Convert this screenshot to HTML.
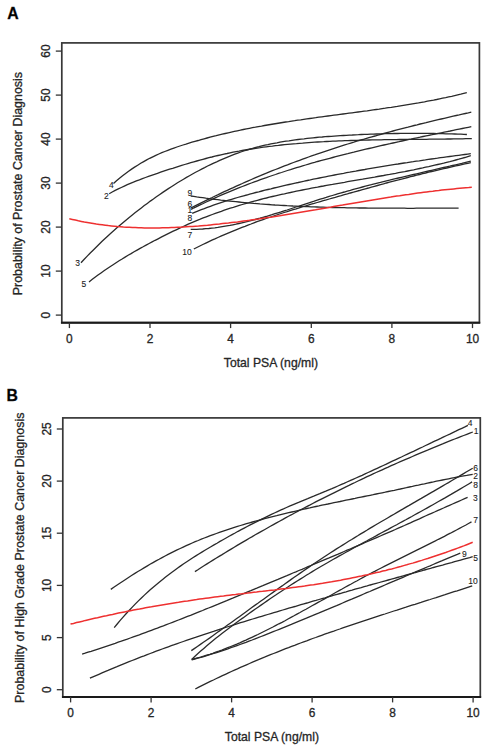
<!DOCTYPE html>
<html><head><meta charset="utf-8"><style>
html,body{margin:0;padding:0;background:#fff;}
body{width:490px;height:755px;overflow:hidden;}
svg{display:block;}
text{font-family:"Liberation Sans",sans-serif;fill:#262626;stroke:#262626;stroke-width:0.3px;}
.tk{font-size:11.9px;}
.ti{font-size:12.2px;}
.lt{font-size:15.8px;font-weight:bold;fill:#000;}
.cl{font-size:8.5px;fill:#1a1a1a;stroke-width:0.1px;}
</style></head><body>
<svg width="490" height="755" viewBox="0 0 490 755">
<rect x="61.8" y="42.9" width="417.6" height="279.7" fill="none" stroke="#383838" stroke-width="1.7"/>
<line x1="60.95" y1="322.7" x2="480.25" y2="322.7" stroke="#1a1a1a" stroke-width="2"/>
<line x1="69.4" y1="322.6" x2="69.4" y2="328.1" stroke="#333" stroke-width="1.3"/>
<text x="69.4" y="342.9" text-anchor="middle" class="tk">0</text>
<line x1="150.0" y1="322.6" x2="150.0" y2="328.1" stroke="#333" stroke-width="1.3"/>
<text x="150.0" y="342.9" text-anchor="middle" class="tk">2</text>
<line x1="230.6" y1="322.6" x2="230.6" y2="328.1" stroke="#333" stroke-width="1.3"/>
<text x="230.6" y="342.9" text-anchor="middle" class="tk">4</text>
<line x1="311.3" y1="322.6" x2="311.3" y2="328.1" stroke="#333" stroke-width="1.3"/>
<text x="311.3" y="342.9" text-anchor="middle" class="tk">6</text>
<line x1="391.9" y1="322.6" x2="391.9" y2="328.1" stroke="#333" stroke-width="1.3"/>
<text x="391.9" y="342.9" text-anchor="middle" class="tk">8</text>
<line x1="472.5" y1="322.6" x2="472.5" y2="328.1" stroke="#333" stroke-width="1.3"/>
<text x="472.5" y="342.9" text-anchor="middle" class="tk">10</text>
<line x1="55.8" y1="315.1" x2="61.8" y2="315.1" stroke="#333" stroke-width="1.3"/>
<text transform="translate(50.2,315.1) rotate(-90)" text-anchor="middle" class="tk">0</text>
<line x1="55.8" y1="271.1" x2="61.8" y2="271.1" stroke="#333" stroke-width="1.3"/>
<text transform="translate(50.2,271.1) rotate(-90)" text-anchor="middle" class="tk">10</text>
<line x1="55.8" y1="227.1" x2="61.8" y2="227.1" stroke="#333" stroke-width="1.3"/>
<text transform="translate(50.2,227.1) rotate(-90)" text-anchor="middle" class="tk">20</text>
<line x1="55.8" y1="183.1" x2="61.8" y2="183.1" stroke="#333" stroke-width="1.3"/>
<text transform="translate(50.2,183.1) rotate(-90)" text-anchor="middle" class="tk">30</text>
<line x1="55.8" y1="139.1" x2="61.8" y2="139.1" stroke="#333" stroke-width="1.3"/>
<text transform="translate(50.2,139.1) rotate(-90)" text-anchor="middle" class="tk">40</text>
<line x1="55.8" y1="95.1" x2="61.8" y2="95.1" stroke="#333" stroke-width="1.3"/>
<text transform="translate(50.2,95.1) rotate(-90)" text-anchor="middle" class="tk">50</text>
<line x1="55.8" y1="51.1" x2="61.8" y2="51.1" stroke="#333" stroke-width="1.3"/>
<text transform="translate(50.2,51.1) rotate(-90)" text-anchor="middle" class="tk">60</text>
<text x="270.9" y="367.1" text-anchor="middle" class="ti">Total PSA (ng/ml)</text>
<text transform="translate(21.8,183.6) rotate(-90)" text-anchor="middle" class="ti" style="font-size:12.45px">Probability of Prostate Cancer Diagnosis</text>
<text x="7.3" y="19.0" class="lt">A</text>
<path d="M113.5,183.5 L116.5,180.8 L119.5,178.2 L122.6,175.8 L125.6,173.4 L128.6,171.2 L131.6,169.1 L134.6,167.1 L137.7,165.2 L140.7,163.3 L143.7,161.6 L146.7,159.9 L149.7,158.3 L152.8,156.8 L155.8,155.4 L158.8,154.0 L161.8,152.7 L164.8,151.5 L167.9,150.3 L170.9,149.2 L173.9,148.1 L176.9,147.0 L179.9,146.0 L183.0,145.0 L186.0,144.1 L189.0,143.1 L192.0,142.2 L195.0,141.3 L198.1,140.5 L201.1,139.6 L204.1,138.8 L207.1,138.0 L210.1,137.2 L213.1,136.4 L216.2,135.7 L219.2,134.9 L222.2,134.2 L225.2,133.5 L228.2,132.8 L231.3,132.1 L234.3,131.4 L237.3,130.8 L240.3,130.2 L243.3,129.5 L246.4,128.9 L249.4,128.3 L252.4,127.7 L255.4,127.2 L258.4,126.6 L261.5,126.1 L264.5,125.5 L267.5,125.0 L270.5,124.5 L273.5,124.0 L276.6,123.5 L279.6,123.0 L282.6,122.5 L285.6,122.0 L288.6,121.6 L291.7,121.1 L294.7,120.7 L297.7,120.2 L300.7,119.8 L303.7,119.3 L306.8,118.9 L309.8,118.5 L312.8,118.1 L315.8,117.7 L318.8,117.2 L321.9,116.8 L324.9,116.4 L327.9,116.0 L330.9,115.6 L333.9,115.2 L337.0,114.8 L340.0,114.4 L343.0,114.0 L346.0,113.6 L349.0,113.2 L352.1,112.8 L355.1,112.4 L358.1,112.0 L361.1,111.6 L364.1,111.2 L367.2,110.8 L370.2,110.3 L373.2,109.9 L376.2,109.5 L379.2,109.1 L382.2,108.6 L385.3,108.2 L388.3,107.7 L391.3,107.3 L394.3,106.8 L397.3,106.4 L400.4,105.9 L403.4,105.4 L406.4,104.9 L409.4,104.4 L412.4,103.9 L415.5,103.4 L418.5,102.9 L421.5,102.3 L424.5,101.8 L427.5,101.2 L430.6,100.6 L433.6,100.1 L436.6,99.5 L439.6,98.8 L442.6,98.2 L445.7,97.6 L448.7,96.9 L451.7,96.3 L454.7,95.6 L457.7,94.9 L460.8,94.2 L463.8,93.4 L466.8,92.7" fill="none" stroke="#2a2a2a" stroke-width="1.3"/>
<path d="M109.2,193.7 L112.2,192.0 L115.2,190.4 L118.3,188.9 L121.3,187.5 L124.3,186.1 L127.3,184.7 L130.4,183.4 L133.4,182.2 L136.4,180.9 L139.4,179.8 L142.4,178.6 L145.5,177.5 L148.5,176.4 L151.5,175.3 L154.5,174.3 L157.5,173.3 L160.6,172.2 L163.6,171.2 L166.6,170.2 L169.6,169.2 L172.7,168.3 L175.7,167.3 L178.7,166.3 L181.7,165.4 L184.7,164.5 L187.8,163.6 L190.8,162.7 L193.8,161.8 L196.8,161.0 L199.9,160.1 L202.9,159.3 L205.9,158.5 L208.9,157.7 L211.9,157.0 L215.0,156.2 L218.0,155.5 L221.0,154.8 L224.0,154.1 L227.0,153.5 L230.1,152.8 L233.1,152.2 L236.1,151.6 L239.1,151.1 L242.2,150.5 L245.2,150.0 L248.2,149.5 L251.2,149.0 L254.2,148.5 L257.3,148.1 L260.3,147.7 L263.3,147.2 L266.3,146.8 L269.3,146.4 L272.4,146.1 L275.4,145.7 L278.4,145.4 L281.4,145.0 L284.5,144.7 L287.5,144.4 L290.5,144.1 L293.5,143.8 L296.5,143.6 L299.6,143.3 L302.6,143.1 L305.6,142.8 L308.6,142.6 L311.7,142.4 L314.7,142.2 L317.7,142.0 L320.7,141.8 L323.7,141.7 L326.8,141.5 L329.8,141.3 L332.8,141.2 L335.8,141.1 L338.8,140.9 L341.9,140.8 L344.9,140.7 L347.9,140.6 L350.9,140.5 L354.0,140.4 L357.0,140.3 L360.0,140.2 L363.0,140.1 L366.0,140.1 L369.1,140.0 L372.1,139.9 L375.1,139.9 L378.1,139.8 L381.2,139.8 L384.2,139.7 L387.2,139.7 L390.2,139.6 L393.2,139.6 L396.3,139.6 L399.3,139.5 L402.3,139.5 L405.3,139.5 L408.3,139.4 L411.4,139.4 L414.4,139.4 L417.4,139.4 L420.4,139.3 L423.5,139.3 L426.5,139.3 L429.5,139.2 L432.5,139.2 L435.5,139.2 L438.6,139.1 L441.6,139.1 L444.6,139.1 L447.6,139.0 L450.6,139.0 L453.7,138.9 L456.7,138.9 L459.7,138.8 L462.7,138.8 L465.8,138.7 L468.8,138.6 L471.8,138.6" fill="none" stroke="#2a2a2a" stroke-width="1.3"/>
<path d="M81.0,262.8 L84.0,259.5 L87.0,256.4 L90.0,253.2 L93.1,250.2 L96.1,247.2 L99.1,244.2 L102.1,241.3 L105.1,238.5 L108.1,235.7 L111.1,232.9 L114.2,230.2 L117.2,227.6 L120.2,225.0 L123.2,222.4 L126.2,219.9 L129.2,217.4 L132.3,215.0 L135.3,212.6 L138.3,210.2 L141.3,207.9 L144.3,205.6 L147.3,203.4 L150.3,201.1 L153.4,199.0 L156.4,196.8 L159.4,194.7 L162.4,192.6 L165.4,190.6 L168.4,188.6 L171.4,186.7 L174.5,184.7 L177.5,182.8 L180.5,181.0 L183.5,179.2 L186.5,177.4 L189.5,175.7 L192.5,174.0 L195.6,172.3 L198.6,170.7 L201.6,169.1 L204.6,167.6 L207.6,166.0 L210.6,164.6 L213.7,163.1 L216.7,161.8 L219.7,160.4 L222.7,159.1 L225.7,157.8 L228.7,156.6 L231.7,155.4 L234.8,154.2 L237.8,153.1 L240.8,152.0 L243.8,151.0 L246.8,150.1 L249.8,149.1 L252.8,148.3 L255.9,147.4 L258.9,146.7 L261.9,145.9 L264.9,145.2 L267.9,144.6 L270.9,143.9 L273.9,143.3 L277.0,142.8 L280.0,142.2 L283.0,141.7 L286.0,141.2 L289.0,140.8 L292.0,140.3 L295.1,139.9 L298.1,139.5 L301.1,139.1 L304.1,138.8 L307.1,138.4 L310.1,138.1 L313.1,137.8 L316.2,137.5 L319.2,137.2 L322.2,137.0 L325.2,136.7 L328.2,136.5 L331.2,136.3 L334.2,136.1 L337.3,135.9 L340.3,135.7 L343.3,135.5 L346.3,135.3 L349.3,135.1 L352.3,135.0 L355.4,134.8 L358.4,134.7 L361.4,134.5 L364.4,134.4 L367.4,134.3 L370.4,134.2 L373.4,134.1 L376.5,134.0 L379.5,133.9 L382.5,133.8 L385.5,133.7 L388.5,133.6 L391.5,133.6 L394.5,133.5 L397.6,133.5 L400.6,133.4 L403.6,133.4 L406.6,133.4 L409.6,133.4 L412.6,133.4 L415.6,133.4 L418.7,133.4 L421.7,133.4 L424.7,133.4 L427.7,133.4 L430.7,133.5 L433.7,133.5 L436.8,133.6 L439.8,133.6 L442.8,133.7 L445.8,133.8 L448.8,133.8 L451.8,133.9 L454.8,134.0 L457.9,134.1 L460.9,134.2 L463.9,134.3 L466.9,134.5" fill="none" stroke="#2a2a2a" stroke-width="1.3"/>
<path d="M89.0,282.0 L92.0,279.6 L95.0,277.3 L98.0,275.1 L101.0,272.9 L104.0,270.8 L107.0,268.7 L110.0,266.7 L113.1,264.7 L116.1,262.7 L119.1,260.8 L122.1,259.0 L125.1,257.1 L128.1,255.3 L131.1,253.6 L134.1,251.8 L137.1,250.1 L140.1,248.4 L143.1,246.8 L146.1,245.1 L149.1,243.5 L152.1,241.9 L155.1,240.3 L158.1,238.8 L161.2,237.2 L164.2,235.7 L167.2,234.2 L170.2,232.7 L173.2,231.2 L176.2,229.8 L179.2,228.4 L182.2,227.0 L185.2,225.6 L188.2,224.2 L191.2,222.9 L194.2,221.6 L197.2,220.4 L200.2,219.2 L203.2,217.9 L206.2,216.8 L209.3,215.6 L212.3,214.5 L215.3,213.4 L218.3,212.3 L221.3,211.3 L224.3,210.2 L227.3,209.2 L230.3,208.2 L233.3,207.3 L236.3,206.3 L239.3,205.4 L242.3,204.5 L245.3,203.6 L248.3,202.8 L251.3,201.9 L254.3,201.1 L257.4,200.3 L260.4,199.5 L263.4,198.7 L266.4,198.0 L269.4,197.2 L272.4,196.5 L275.4,195.8 L278.4,195.1 L281.4,194.4 L284.4,193.8 L287.4,193.1 L290.4,192.5 L293.4,191.8 L296.4,191.2 L299.4,190.6 L302.4,190.0 L305.5,189.4 L308.5,188.8 L311.5,188.2 L314.5,187.6 L317.5,187.1 L320.5,186.5 L323.5,186.0 L326.5,185.4 L329.5,184.9 L332.5,184.4 L335.5,183.8 L338.5,183.3 L341.5,182.8 L344.5,182.3 L347.5,181.7 L350.5,181.2 L353.6,180.7 L356.6,180.2 L359.6,179.7 L362.6,179.2 L365.6,178.6 L368.6,178.1 L371.6,177.6 L374.6,177.1 L377.6,176.5 L380.6,176.0 L383.6,175.5 L386.6,174.9 L389.6,174.4 L392.6,173.8 L395.6,173.3 L398.6,172.7 L401.7,172.1 L404.7,171.6 L407.7,171.0 L410.7,170.4 L413.7,169.8 L416.7,169.1 L419.7,168.5 L422.7,167.9 L425.7,167.2 L428.7,166.6 L431.7,165.9 L434.7,165.2 L437.7,164.5 L440.7,163.8 L443.7,163.1 L446.7,162.3 L449.8,161.6 L452.8,160.8 L455.8,160.0 L458.8,159.2 L461.8,158.3 L464.8,157.5 L467.8,156.6 L470.8,155.7" fill="none" stroke="#2a2a2a" stroke-width="1.3"/>
<path d="M192.2,213.4 L195.2,212.1 L198.3,210.9 L201.3,209.7 L204.3,208.6 L207.3,207.4 L210.4,206.3 L213.4,205.2 L216.4,204.2 L219.5,203.2 L222.5,202.2 L225.5,201.2 L228.5,200.2 L231.6,199.3 L234.6,198.4 L237.6,197.5 L240.7,196.6 L243.7,195.8 L246.7,195.0 L249.7,194.1 L252.8,193.3 L255.8,192.5 L258.8,191.8 L261.9,191.0 L264.9,190.2 L267.9,189.5 L270.9,188.8 L274.0,188.0 L277.0,187.3 L280.0,186.6 L283.0,185.9 L286.1,185.2 L289.1,184.5 L292.1,183.8 L295.2,183.1 L298.2,182.5 L301.2,181.8 L304.2,181.2 L307.3,180.5 L310.3,179.9 L313.3,179.2 L316.4,178.6 L319.4,178.0 L322.4,177.4 L325.4,176.8 L328.5,176.2 L331.5,175.6 L334.5,175.0 L337.6,174.4 L340.6,173.8 L343.6,173.3 L346.6,172.7 L349.7,172.2 L352.7,171.6 L355.7,171.1 L358.8,170.5 L361.8,170.0 L364.8,169.5 L367.8,168.9 L370.9,168.4 L373.9,167.9 L376.9,167.4 L380.0,166.9 L383.0,166.4 L386.0,165.9 L389.0,165.4 L392.1,164.9 L395.1,164.4 L398.1,164.0 L401.1,163.5 L404.2,163.0 L407.2,162.6 L410.2,162.1 L413.3,161.7 L416.3,161.2 L419.3,160.8 L422.3,160.3 L425.4,159.9 L428.4,159.4 L431.4,159.0 L434.5,158.6 L437.5,158.2 L440.5,157.7 L443.5,157.3 L446.6,156.9 L449.6,156.5 L452.6,156.1 L455.7,155.7 L458.7,155.3 L461.7,154.9 L464.7,154.5 L467.8,154.1 L470.8,153.7" fill="none" stroke="#2a2a2a" stroke-width="1.3"/>
<path d="M191.1,207.9 L194.1,206.4 L197.1,204.9 L200.1,203.4 L203.2,201.9 L206.2,200.4 L209.2,198.9 L212.2,197.5 L215.2,196.0 L218.2,194.6 L221.2,193.1 L224.2,191.7 L227.3,190.3 L230.3,188.9 L233.3,187.6 L236.3,186.2 L239.3,184.8 L242.3,183.5 L245.3,182.1 L248.3,180.8 L251.4,179.5 L254.4,178.2 L257.4,176.9 L260.4,175.7 L263.4,174.4 L266.4,173.2 L269.4,171.9 L272.4,170.7 L275.5,169.5 L278.5,168.3 L281.5,167.1 L284.5,165.9 L287.5,164.8 L290.5,163.6 L293.5,162.5 L296.6,161.4 L299.6,160.3 L302.6,159.2 L305.6,158.1 L308.6,157.0 L311.6,155.9 L314.6,154.9 L317.6,153.8 L320.7,152.8 L323.7,151.8 L326.7,150.8 L329.7,149.8 L332.7,148.8 L335.7,147.8 L338.7,146.8 L341.7,145.9 L344.8,144.9 L347.8,144.0 L350.8,143.1 L353.8,142.2 L356.8,141.2 L359.8,140.3 L362.8,139.5 L365.8,138.6 L368.9,137.7 L371.9,136.8 L374.9,136.0 L377.9,135.1 L380.9,134.3 L383.9,133.4 L386.9,132.6 L390.0,131.8 L393.0,131.0 L396.0,130.2 L399.0,129.4 L402.0,128.6 L405.0,127.8 L408.0,127.1 L411.0,126.3 L414.1,125.5 L417.1,124.8 L420.1,124.0 L423.1,123.3 L426.1,122.6 L429.1,121.8 L432.1,121.1 L435.1,120.4 L438.2,119.7 L441.2,119.0 L444.2,118.3 L447.2,117.6 L450.2,116.9 L453.2,116.2 L456.2,115.5 L459.2,114.9 L462.3,114.2 L465.3,113.5 L468.3,112.9 L471.3,112.2" fill="none" stroke="#2a2a2a" stroke-width="1.3"/>
<path d="M191.1,209.4 L194.1,207.8 L197.1,206.4 L200.1,204.9 L203.2,203.5 L206.2,202.0 L209.2,200.6 L212.2,199.3 L215.2,197.9 L218.2,196.5 L221.2,195.2 L224.2,193.9 L227.3,192.6 L230.3,191.4 L233.3,190.1 L236.3,188.9 L239.3,187.7 L242.3,186.5 L245.3,185.3 L248.3,184.2 L251.4,183.0 L254.4,181.9 L257.4,180.8 L260.4,179.7 L263.4,178.6 L266.4,177.6 L269.4,176.5 L272.4,175.5 L275.5,174.5 L278.5,173.4 L281.5,172.5 L284.5,171.5 L287.5,170.5 L290.5,169.6 L293.5,168.6 L296.6,167.7 L299.6,166.8 L302.6,165.9 L305.6,165.0 L308.6,164.1 L311.6,163.2 L314.6,162.4 L317.6,161.5 L320.7,160.7 L323.7,159.9 L326.7,159.1 L329.7,158.3 L332.7,157.5 L335.7,156.7 L338.7,155.9 L341.7,155.1 L344.8,154.3 L347.8,153.6 L350.8,152.8 L353.8,152.1 L356.8,151.3 L359.8,150.6 L362.8,149.9 L365.8,149.2 L368.9,148.5 L371.9,147.8 L374.9,147.1 L377.9,146.4 L380.9,145.7 L383.9,145.0 L386.9,144.3 L390.0,143.7 L393.0,143.0 L396.0,142.3 L399.0,141.7 L402.0,141.0 L405.0,140.4 L408.0,139.7 L411.0,139.1 L414.1,138.4 L417.1,137.8 L420.1,137.2 L423.1,136.5 L426.1,135.9 L429.1,135.3 L432.1,134.7 L435.1,134.0 L438.2,133.4 L441.2,132.8 L444.2,132.2 L447.2,131.6 L450.2,131.0 L453.2,130.3 L456.2,129.7 L459.2,129.1 L462.3,128.5 L465.3,127.9 L468.3,127.3 L471.3,126.7" fill="none" stroke="#2a2a2a" stroke-width="1.3"/>
<path d="M190.7,196.0 L193.7,196.4 L196.7,196.9 L199.7,197.3 L202.7,197.7 L205.8,198.2 L208.8,198.6 L211.8,199.0 L214.8,199.3 L217.8,199.7 L220.8,200.1 L223.8,200.4 L226.8,200.8 L229.8,201.1 L232.8,201.4 L235.9,201.7 L238.9,202.0 L241.9,202.3 L244.9,202.6 L247.9,202.9 L250.9,203.1 L253.9,203.4 L256.9,203.6 L259.9,203.9 L262.9,204.1 L266.0,204.3 L269.0,204.5 L272.0,204.8 L275.0,205.0 L278.0,205.1 L281.0,205.3 L284.0,205.5 L287.0,205.7 L290.0,205.8 L293.0,206.0 L296.1,206.1 L299.1,206.3 L302.1,206.4 L305.1,206.6 L308.1,206.7 L311.1,206.8 L314.1,206.9 L317.1,207.0 L320.1,207.1 L323.1,207.2 L326.2,207.3 L329.2,207.4 L332.2,207.5 L335.2,207.5 L338.2,207.6 L341.2,207.7 L344.2,207.7 L347.2,207.8 L350.2,207.8 L353.2,207.9 L356.3,207.9 L359.3,208.0 L362.3,208.0 L365.3,208.0 L368.3,208.1 L371.3,208.1 L374.3,208.1 L377.3,208.2 L380.3,208.2 L383.3,208.2 L386.4,208.2 L389.4,208.2 L392.4,208.2 L395.4,208.2 L398.4,208.2 L401.4,208.2 L404.4,208.2 L407.4,208.3 L410.4,208.3 L413.4,208.3 L416.5,208.2 L419.5,208.2 L422.5,208.2 L425.5,208.2 L428.5,208.2 L431.5,208.2 L434.5,208.2 L437.5,208.2 L440.5,208.2 L443.5,208.2 L446.6,208.2 L449.6,208.2 L452.6,208.2 L455.6,208.2 L458.6,208.2" fill="none" stroke="#2a2a2a" stroke-width="1.3"/>
<path d="M190.7,229.4 L193.7,229.4 L196.7,229.3 L199.7,229.1 L202.7,229.0 L205.8,228.7 L208.8,228.5 L211.8,228.1 L214.8,227.8 L217.8,227.4 L220.8,226.9 L223.8,226.4 L226.8,225.9 L229.9,225.4 L232.9,224.8 L235.9,224.2 L238.9,223.5 L241.9,222.8 L244.9,222.1 L247.9,221.4 L250.9,220.6 L253.9,219.8 L257.0,219.0 L260.0,218.2 L263.0,217.3 L266.0,216.5 L269.0,215.6 L272.0,214.7 L275.0,213.7 L278.0,212.8 L281.1,211.9 L284.1,210.9 L287.1,210.0 L290.1,209.0 L293.1,208.0 L296.1,207.0 L299.1,206.1 L302.1,205.1 L305.1,204.1 L308.2,203.1 L311.2,202.1 L314.2,201.2 L317.2,200.2 L320.2,199.2 L323.2,198.3 L326.2,197.4 L329.2,196.4 L332.3,195.5 L335.3,194.6 L338.3,193.7 L341.3,192.8 L344.3,192.0 L347.3,191.1 L350.3,190.3 L353.3,189.4 L356.4,188.6 L359.4,187.8 L362.4,187.0 L365.4,186.2 L368.4,185.4 L371.4,184.7 L374.4,183.9 L377.4,183.1 L380.4,182.4 L383.5,181.6 L386.5,180.9 L389.5,180.2 L392.5,179.4 L395.5,178.7 L398.5,178.0 L401.5,177.3 L404.5,176.6 L407.6,175.9 L410.6,175.2 L413.6,174.5 L416.6,173.8 L419.6,173.1 L422.6,172.4 L425.6,171.7 L428.6,171.0 L431.6,170.3 L434.7,169.6 L437.7,168.9 L440.7,168.2 L443.7,167.5 L446.7,166.8 L449.7,166.2 L452.7,165.5 L455.7,164.8 L458.8,164.1 L461.8,163.4 L464.8,162.6 L467.8,161.9 L470.8,161.2" fill="none" stroke="#2a2a2a" stroke-width="1.3"/>
<path d="M193.8,249.0 L196.8,247.5 L199.8,246.0 L202.8,244.5 L205.8,243.1 L208.9,241.6 L211.9,240.2 L214.9,238.9 L217.9,237.5 L220.9,236.2 L223.9,234.9 L226.9,233.6 L229.9,232.3 L232.9,231.1 L236.0,229.8 L239.0,228.6 L242.0,227.4 L245.0,226.3 L248.0,225.1 L251.0,224.0 L254.0,222.8 L257.0,221.7 L260.0,220.7 L263.1,219.6 L266.1,218.5 L269.1,217.5 L272.1,216.5 L275.1,215.5 L278.1,214.5 L281.1,213.5 L284.1,212.5 L287.1,211.6 L290.1,210.6 L293.2,209.7 L296.2,208.8 L299.2,207.8 L302.2,206.9 L305.2,206.0 L308.2,205.1 L311.2,204.2 L314.2,203.4 L317.2,202.5 L320.3,201.6 L323.3,200.7 L326.3,199.9 L329.3,199.0 L332.3,198.1 L335.3,197.3 L338.3,196.4 L341.3,195.6 L344.3,194.7 L347.4,193.9 L350.4,193.0 L353.4,192.2 L356.4,191.3 L359.4,190.5 L362.4,189.6 L365.4,188.8 L368.4,188.0 L371.4,187.1 L374.5,186.3 L377.5,185.5 L380.5,184.7 L383.5,183.9 L386.5,183.0 L389.5,182.2 L392.5,181.4 L395.5,180.6 L398.5,179.9 L401.6,179.1 L404.6,178.3 L407.6,177.5 L410.6,176.7 L413.6,176.0 L416.6,175.2 L419.6,174.5 L422.6,173.7 L425.6,173.0 L428.6,172.2 L431.7,171.5 L434.7,170.8 L437.7,170.1 L440.7,169.4 L443.7,168.7 L446.7,168.0 L449.7,167.3 L452.7,166.6 L455.7,165.9 L458.8,165.3 L461.8,164.6 L464.8,163.9 L467.8,163.3 L470.8,162.7" fill="none" stroke="#2a2a2a" stroke-width="1.3"/>
<path d="M69.3,218.7 L72.3,219.4 L75.3,220.1 L78.3,220.8 L81.3,221.4 L84.3,222.0 L87.3,222.5 L90.3,223.0 L93.3,223.5 L96.3,224.0 L99.3,224.4 L102.3,224.8 L105.3,225.2 L108.3,225.6 L111.4,225.9 L114.4,226.2 L117.4,226.5 L120.4,226.7 L123.4,227.0 L126.4,227.2 L129.4,227.3 L132.4,227.5 L135.4,227.6 L138.4,227.7 L141.4,227.8 L144.4,227.9 L147.4,227.9 L150.4,227.9 L153.4,227.9 L156.4,227.9 L159.4,227.9 L162.4,227.8 L165.4,227.8 L168.4,227.7 L171.4,227.6 L174.4,227.5 L177.4,227.3 L180.4,227.2 L183.4,227.0 L186.4,226.8 L189.4,226.6 L192.5,226.4 L195.5,226.2 L198.5,226.0 L201.5,225.7 L204.5,225.4 L207.5,225.2 L210.5,224.9 L213.5,224.6 L216.5,224.3 L219.5,224.0 L222.5,223.6 L225.5,223.3 L228.5,223.0 L231.5,222.6 L234.5,222.2 L237.5,221.9 L240.5,221.5 L243.5,221.1 L246.5,220.7 L249.5,220.3 L252.5,219.8 L255.5,219.4 L258.5,219.0 L261.5,218.5 L264.5,218.1 L267.5,217.6 L270.6,217.2 L273.6,216.7 L276.6,216.2 L279.6,215.8 L282.6,215.3 L285.6,214.8 L288.6,214.3 L291.6,213.8 L294.6,213.3 L297.6,212.8 L300.6,212.3 L303.6,211.8 L306.6,211.3 L309.6,210.8 L312.6,210.3 L315.6,209.8 L318.6,209.2 L321.6,208.7 L324.6,208.2 L327.6,207.7 L330.6,207.2 L333.6,206.6 L336.6,206.1 L339.6,205.6 L342.6,205.1 L345.6,204.5 L348.6,204.0 L351.7,203.5 L354.7,203.0 L357.7,202.5 L360.7,202.0 L363.7,201.5 L366.7,201.0 L369.7,200.5 L372.7,200.0 L375.7,199.5 L378.7,199.0 L381.7,198.5 L384.7,198.0 L387.7,197.5 L390.7,197.1 L393.7,196.6 L396.7,196.1 L399.7,195.7 L402.7,195.2 L405.7,194.8 L408.7,194.4 L411.7,193.9 L414.7,193.5 L417.7,193.1 L420.7,192.7 L423.7,192.3 L426.7,191.9 L429.7,191.5 L432.8,191.2 L435.8,190.8 L438.8,190.5 L441.8,190.1 L444.8,189.8 L447.8,189.5 L450.8,189.2 L453.8,188.9 L456.8,188.6 L459.8,188.3 L462.8,188.0 L465.8,187.8 L468.8,187.6 L471.8,187.3" fill="none" stroke="#ee3030" stroke-width="1.5"/>
<text x="111.4" y="187.7" text-anchor="middle" class="cl">4</text>
<text x="106.4" y="198.8" text-anchor="middle" class="cl">2</text>
<text x="77.7" y="265.9" text-anchor="middle" class="cl">3</text>
<text x="83.8" y="286.6" text-anchor="middle" class="cl">5</text>
<text x="189.8" y="196.4" text-anchor="middle" class="cl">9</text>
<text x="189.8" y="207.3" text-anchor="middle" class="cl">6</text>
<text x="189.8" y="213.4" text-anchor="middle" class="cl">1</text>
<text x="189.8" y="221.2" text-anchor="middle" class="cl">8</text>
<text x="189.8" y="237.9" text-anchor="middle" class="cl">7</text>
<text x="187.1" y="254.8" text-anchor="middle" class="cl">10</text>
<rect x="62.8" y="417.9" width="417.5" height="279.0" fill="none" stroke="#383838" stroke-width="1.7"/>
<line x1="61.95" y1="697.0" x2="481.15" y2="697.0" stroke="#1a1a1a" stroke-width="2"/>
<line x1="70.6" y1="696.9" x2="70.6" y2="702.4" stroke="#333" stroke-width="1.3"/>
<text x="70.6" y="717.2" text-anchor="middle" class="tk">0</text>
<line x1="151.1" y1="696.9" x2="151.1" y2="702.4" stroke="#333" stroke-width="1.3"/>
<text x="151.1" y="717.2" text-anchor="middle" class="tk">2</text>
<line x1="231.6" y1="696.9" x2="231.6" y2="702.4" stroke="#333" stroke-width="1.3"/>
<text x="231.6" y="717.2" text-anchor="middle" class="tk">4</text>
<line x1="312.1" y1="696.9" x2="312.1" y2="702.4" stroke="#333" stroke-width="1.3"/>
<text x="312.1" y="717.2" text-anchor="middle" class="tk">6</text>
<line x1="392.6" y1="696.9" x2="392.6" y2="702.4" stroke="#333" stroke-width="1.3"/>
<text x="392.6" y="717.2" text-anchor="middle" class="tk">8</text>
<line x1="473.1" y1="696.9" x2="473.1" y2="702.4" stroke="#333" stroke-width="1.3"/>
<text x="473.1" y="717.2" text-anchor="middle" class="tk">10</text>
<line x1="56.8" y1="689.7" x2="62.8" y2="689.7" stroke="#333" stroke-width="1.3"/>
<text transform="translate(51.2,689.7) rotate(-90)" text-anchor="middle" class="tk">0</text>
<line x1="56.8" y1="637.6" x2="62.8" y2="637.6" stroke="#333" stroke-width="1.3"/>
<text transform="translate(51.2,637.6) rotate(-90)" text-anchor="middle" class="tk">5</text>
<line x1="56.8" y1="585.4" x2="62.8" y2="585.4" stroke="#333" stroke-width="1.3"/>
<text transform="translate(51.2,585.4) rotate(-90)" text-anchor="middle" class="tk">10</text>
<line x1="56.8" y1="533.2" x2="62.8" y2="533.2" stroke="#333" stroke-width="1.3"/>
<text transform="translate(51.2,533.2) rotate(-90)" text-anchor="middle" class="tk">15</text>
<line x1="56.8" y1="481.1" x2="62.8" y2="481.1" stroke="#333" stroke-width="1.3"/>
<text transform="translate(51.2,481.1) rotate(-90)" text-anchor="middle" class="tk">20</text>
<line x1="56.8" y1="429.0" x2="62.8" y2="429.0" stroke="#333" stroke-width="1.3"/>
<text transform="translate(51.2,429.0) rotate(-90)" text-anchor="middle" class="tk">25</text>
<text x="271.9" y="741.4" text-anchor="middle" class="ti">Total PSA (ng/ml)</text>
<text transform="translate(23.8,557.8) rotate(-90)" text-anchor="middle" class="ti" style="font-size:12.45px">Probability of High Grade Prostate Cancer Diagnosis</text>
<text x="6.6" y="401.2" class="lt">B</text>
<path d="M114.2,627.6 L117.2,624.0 L120.2,620.4 L123.3,616.9 L126.3,613.5 L129.3,610.3 L132.3,607.1 L135.4,603.9 L138.4,600.9 L141.4,598.0 L144.4,595.1 L147.5,592.3 L150.5,589.6 L153.5,586.9 L156.5,584.4 L159.5,581.9 L162.6,579.4 L165.6,577.0 L168.6,574.7 L171.6,572.4 L174.7,570.2 L177.7,568.0 L180.7,565.9 L183.7,563.8 L186.8,561.8 L189.8,559.8 L192.8,557.8 L195.8,555.9 L198.8,554.0 L201.9,552.1 L204.9,550.3 L207.9,548.5 L210.9,546.7 L214.0,544.9 L217.0,543.2 L220.0,541.4 L223.0,539.7 L226.1,538.0 L229.1,536.3 L232.1,534.6 L235.1,533.0 L238.1,531.3 L241.2,529.7 L244.2,528.1 L247.2,526.5 L250.2,524.9 L253.3,523.3 L256.3,521.8 L259.3,520.3 L262.3,518.8 L265.4,517.3 L268.4,515.8 L271.4,514.4 L274.4,513.0 L277.4,511.6 L280.5,510.2 L283.5,508.9 L286.5,507.5 L289.5,506.2 L292.6,504.9 L295.6,503.6 L298.6,502.4 L301.6,501.1 L304.7,499.8 L307.7,498.6 L310.7,497.3 L313.7,496.1 L316.7,494.8 L319.8,493.6 L322.8,492.3 L325.8,491.1 L328.8,489.8 L331.9,488.6 L334.9,487.3 L337.9,486.0 L340.9,484.7 L344.0,483.4 L347.0,482.0 L350.0,480.7 L353.0,479.3 L356.0,478.0 L359.1,476.6 L362.1,475.3 L365.1,473.9 L368.1,472.5 L371.2,471.1 L374.2,469.7 L377.2,468.3 L380.2,466.9 L383.3,465.5 L386.3,464.1 L389.3,462.6 L392.3,461.2 L395.3,459.8 L398.4,458.4 L401.4,457.0 L404.4,455.5 L407.4,454.1 L410.5,452.7 L413.5,451.3 L416.5,449.8 L419.5,448.4 L422.6,447.0 L425.6,445.5 L428.6,444.1 L431.6,442.7 L434.6,441.2 L437.7,439.8 L440.7,438.4 L443.7,436.9 L446.7,435.5 L449.8,434.1 L452.8,432.6 L455.8,431.2 L458.8,429.7 L461.9,428.3 L464.9,426.9 L467.9,425.4" fill="none" stroke="#2a2a2a" stroke-width="1.3"/>
<path d="M194.9,571.6 L197.9,569.7 L200.9,567.7 L204.0,565.8 L207.0,563.9 L210.0,562.0 L213.0,560.1 L216.0,558.3 L219.1,556.4 L222.1,554.6 L225.1,552.7 L228.1,550.9 L231.1,549.1 L234.2,547.2 L237.2,545.4 L240.2,543.6 L243.2,541.9 L246.3,540.1 L249.3,538.3 L252.3,536.6 L255.3,534.8 L258.3,533.1 L261.4,531.4 L264.4,529.7 L267.4,528.0 L270.4,526.3 L273.4,524.6 L276.5,522.9 L279.5,521.2 L282.5,519.6 L285.5,517.9 L288.5,516.3 L291.6,514.7 L294.6,513.0 L297.6,511.4 L300.6,509.8 L303.6,508.2 L306.7,506.6 L309.7,505.1 L312.7,503.5 L315.7,501.9 L318.7,500.4 L321.8,498.8 L324.8,497.3 L327.8,495.8 L330.8,494.3 L333.9,492.8 L336.9,491.3 L339.9,489.8 L342.9,488.3 L345.9,486.8 L349.0,485.4 L352.0,483.9 L355.0,482.5 L358.0,481.0 L361.0,479.6 L364.1,478.2 L367.1,476.7 L370.1,475.3 L373.1,473.9 L376.1,472.5 L379.2,471.2 L382.2,469.8 L385.2,468.4 L388.2,467.1 L391.2,465.7 L394.3,464.4 L397.3,463.0 L400.3,461.7 L403.3,460.4 L406.3,459.1 L409.4,457.8 L412.4,456.5 L415.4,455.2 L418.4,453.9 L421.4,452.6 L424.5,451.3 L427.5,450.1 L430.5,448.8 L433.5,447.6 L436.6,446.3 L439.6,445.1 L442.6,443.9 L445.6,442.6 L448.6,441.4 L451.7,440.2 L454.7,439.0 L457.7,437.8 L460.7,436.6 L463.7,435.5 L466.8,434.3 L469.8,433.1 L472.8,432.0" fill="none" stroke="#2a2a2a" stroke-width="1.3"/>
<path d="M110.8,589.4 L113.8,587.3 L116.8,585.2 L119.8,583.2 L122.9,581.2 L125.9,579.2 L128.9,577.2 L131.9,575.3 L134.9,573.4 L137.9,571.5 L141.0,569.7 L144.0,567.9 L147.0,566.1 L150.0,564.3 L153.0,562.6 L156.0,560.9 L159.1,559.3 L162.1,557.6 L165.1,556.0 L168.1,554.4 L171.1,552.9 L174.1,551.4 L177.1,549.9 L180.2,548.5 L183.2,547.1 L186.2,545.7 L189.2,544.3 L192.2,543.0 L195.2,541.7 L198.3,540.5 L201.3,539.2 L204.3,538.0 L207.3,536.8 L210.3,535.7 L213.3,534.6 L216.4,533.5 L219.4,532.4 L222.4,531.3 L225.4,530.3 L228.4,529.3 L231.4,528.3 L234.4,527.4 L237.5,526.4 L240.5,525.5 L243.5,524.6 L246.5,523.7 L249.5,522.8 L252.5,522.0 L255.6,521.1 L258.6,520.3 L261.6,519.5 L264.6,518.7 L267.6,517.9 L270.6,517.1 L273.7,516.3 L276.7,515.6 L279.7,514.8 L282.7,514.1 L285.7,513.4 L288.7,512.7 L291.8,512.0 L294.8,511.3 L297.8,510.6 L300.8,509.9 L303.8,509.2 L306.8,508.5 L309.8,507.9 L312.9,507.2 L315.9,506.5 L318.9,505.9 L321.9,505.2 L324.9,504.6 L327.9,504.0 L331.0,503.3 L334.0,502.7 L337.0,502.1 L340.0,501.5 L343.0,500.8 L346.0,500.2 L349.1,499.6 L352.1,499.0 L355.1,498.4 L358.1,497.7 L361.1,497.1 L364.1,496.5 L367.1,495.9 L370.2,495.3 L373.2,494.7 L376.2,494.0 L379.2,493.4 L382.2,492.8 L385.2,492.2 L388.3,491.5 L391.3,490.9 L394.3,490.3 L397.3,489.6 L400.3,489.0 L403.3,488.3 L406.4,487.7 L409.4,487.0 L412.4,486.4 L415.4,485.7 L418.4,485.1 L421.4,484.4 L424.4,483.8 L427.5,483.1 L430.5,482.5 L433.5,481.9 L436.5,481.2 L439.5,480.6 L442.5,480.0 L445.6,479.4 L448.6,478.8 L451.6,478.2 L454.6,477.6 L457.6,477.0 L460.6,476.4 L463.7,475.9 L466.7,475.4 L469.7,474.8 L472.7,474.3" fill="none" stroke="#2a2a2a" stroke-width="1.3"/>
<path d="M82.1,654.1 L85.1,653.2 L88.1,652.2 L91.1,651.3 L94.1,650.3 L97.2,649.3 L100.2,648.3 L103.2,647.3 L106.2,646.3 L109.2,645.3 L112.2,644.3 L115.2,643.3 L118.2,642.2 L121.3,641.2 L124.3,640.1 L127.3,639.1 L130.3,638.0 L133.3,636.9 L136.3,635.8 L139.3,634.8 L142.3,633.7 L145.3,632.6 L148.4,631.4 L151.4,630.3 L154.4,629.2 L157.4,628.1 L160.4,626.9 L163.4,625.8 L166.4,624.6 L169.4,623.5 L172.5,622.3 L175.5,621.2 L178.5,620.0 L181.5,618.8 L184.5,617.6 L187.5,616.4 L190.5,615.3 L193.5,614.1 L196.5,612.9 L199.6,611.7 L202.6,610.5 L205.6,609.2 L208.6,608.0 L211.6,606.8 L214.6,605.6 L217.6,604.4 L220.6,603.1 L223.7,601.9 L226.7,600.7 L229.7,599.4 L232.7,598.2 L235.7,596.9 L238.7,595.7 L241.7,594.5 L244.7,593.2 L247.7,591.9 L250.8,590.7 L253.8,589.4 L256.8,588.2 L259.8,586.9 L262.8,585.7 L265.8,584.4 L268.8,583.1 L271.8,581.9 L274.9,580.6 L277.9,579.4 L280.9,578.1 L283.9,576.8 L286.9,575.6 L289.9,574.3 L292.9,573.0 L295.9,571.8 L298.9,570.5 L302.0,569.3 L305.0,568.0 L308.0,566.7 L311.0,565.5 L314.0,564.2 L317.0,562.9 L320.0,561.7 L323.0,560.4 L326.0,559.1 L329.1,557.9 L332.1,556.6 L335.1,555.3 L338.1,554.1 L341.1,552.8 L344.1,551.5 L347.1,550.2 L350.1,549.0 L353.2,547.7 L356.2,546.4 L359.2,545.1 L362.2,543.8 L365.2,542.5 L368.2,541.2 L371.2,539.9 L374.2,538.6 L377.2,537.3 L380.3,536.0 L383.3,534.7 L386.3,533.4 L389.3,532.1 L392.3,530.8 L395.3,529.5 L398.3,528.1 L401.3,526.8 L404.4,525.5 L407.4,524.1 L410.4,522.8 L413.4,521.4 L416.4,520.1 L419.4,518.8 L422.4,517.4 L425.4,516.0 L428.4,514.7 L431.5,513.3 L434.5,512.0 L437.5,510.6 L440.5,509.3 L443.5,508.0 L446.5,506.6 L449.5,505.3 L452.5,504.0 L455.6,502.6 L458.6,501.3 L461.6,500.0 L464.6,498.7 L467.6,497.4" fill="none" stroke="#2a2a2a" stroke-width="1.3"/>
<path d="M89.9,678.2 L92.9,676.9 L95.9,675.6 L98.9,674.3 L102.0,672.9 L105.0,671.6 L108.0,670.4 L111.0,669.1 L114.0,667.8 L117.0,666.6 L120.0,665.3 L123.1,664.1 L126.1,662.9 L129.1,661.7 L132.1,660.5 L135.1,659.3 L138.1,658.1 L141.1,656.9 L144.2,655.8 L147.2,654.6 L150.2,653.5 L153.2,652.4 L156.2,651.2 L159.2,650.1 L162.2,649.0 L165.3,647.9 L168.3,646.8 L171.3,645.7 L174.3,644.7 L177.3,643.6 L180.3,642.5 L183.3,641.5 L186.4,640.4 L189.4,639.4 L192.4,638.4 L195.4,637.4 L198.4,636.3 L201.4,635.3 L204.4,634.3 L207.5,633.3 L210.5,632.3 L213.5,631.4 L216.5,630.4 L219.5,629.4 L222.5,628.4 L225.5,627.5 L228.6,626.5 L231.6,625.6 L234.6,624.6 L237.6,623.7 L240.6,622.7 L243.6,621.8 L246.6,620.9 L249.7,619.9 L252.7,619.0 L255.7,618.1 L258.7,617.2 L261.7,616.3 L264.7,615.4 L267.7,614.5 L270.8,613.6 L273.8,612.7 L276.8,611.8 L279.8,610.9 L282.8,610.0 L285.8,609.1 L288.8,608.2 L291.8,607.3 L294.9,606.5 L297.9,605.6 L300.9,604.7 L303.9,603.8 L306.9,603.0 L309.9,602.1 L312.9,601.2 L316.0,600.4 L319.0,599.5 L322.0,598.6 L325.0,597.8 L328.0,596.9 L331.0,596.1 L334.0,595.2 L337.1,594.3 L340.1,593.5 L343.1,592.6 L346.1,591.8 L349.1,590.9 L352.1,590.1 L355.1,589.2 L358.2,588.4 L361.2,587.6 L364.2,586.7 L367.2,585.9 L370.2,585.0 L373.2,584.2 L376.2,583.4 L379.3,582.5 L382.3,581.7 L385.3,580.8 L388.3,580.0 L391.3,579.2 L394.3,578.3 L397.3,577.5 L400.4,576.7 L403.4,575.8 L406.4,575.0 L409.4,574.2 L412.4,573.4 L415.4,572.5 L418.4,571.7 L421.5,570.9 L424.5,570.0 L427.5,569.2 L430.5,568.4 L433.5,567.5 L436.5,566.7 L439.5,565.9 L442.6,565.1 L445.6,564.2 L448.6,563.4 L451.6,562.6 L454.6,561.7 L457.6,560.9 L460.6,560.1 L463.7,559.2 L466.7,558.4 L469.7,557.6 L472.7,556.7" fill="none" stroke="#2a2a2a" stroke-width="1.3"/>
<path d="M191.3,650.6 L194.3,648.6 L197.4,646.5 L200.4,644.4 L203.4,642.3 L206.4,640.2 L209.5,638.1 L212.5,635.9 L215.5,633.8 L218.5,631.6 L221.6,629.5 L224.6,627.3 L227.6,625.1 L230.6,623.0 L233.7,620.8 L236.7,618.6 L239.7,616.4 L242.7,614.2 L245.8,612.0 L248.8,609.8 L251.8,607.6 L254.8,605.4 L257.9,603.3 L260.9,601.1 L263.9,598.9 L266.9,596.7 L270.0,594.5 L273.0,592.4 L276.0,590.2 L279.0,588.0 L282.1,585.9 L285.1,583.7 L288.1,581.6 L291.2,579.4 L294.2,577.3 L297.2,575.2 L300.2,573.1 L303.3,571.0 L306.3,568.9 L309.3,566.9 L312.3,564.8 L315.4,562.8 L318.4,560.8 L321.4,558.8 L324.4,556.8 L327.5,554.8 L330.5,552.8 L333.5,550.9 L336.5,548.9 L339.6,547.0 L342.6,545.1 L345.6,543.2 L348.6,541.3 L351.7,539.5 L354.7,537.6 L357.7,535.8 L360.7,533.9 L363.8,532.1 L366.8,530.3 L369.8,528.4 L372.8,526.6 L375.9,524.8 L378.9,523.0 L381.9,521.3 L385.0,519.5 L388.0,517.7 L391.0,515.9 L394.0,514.2 L397.1,512.4 L400.1,510.6 L403.1,508.9 L406.1,507.1 L409.2,505.4 L412.2,503.6 L415.2,501.9 L418.2,500.1 L421.3,498.4 L424.3,496.6 L427.3,494.9 L430.3,493.1 L433.4,491.4 L436.4,489.6 L439.4,487.9 L442.4,486.1 L445.5,484.3 L448.5,482.6 L451.5,480.8 L454.5,479.0 L457.6,477.2 L460.6,475.4 L463.6,473.6 L466.6,471.8 L469.7,470.0 L472.7,468.2" fill="none" stroke="#2a2a2a" stroke-width="1.3"/>
<path d="M191.7,659.4 L194.7,656.6 L197.7,653.8 L200.7,651.1 L203.8,648.4 L206.8,645.8 L209.8,643.3 L212.8,640.8 L215.8,638.3 L218.8,635.9 L221.9,633.5 L224.9,631.2 L227.9,628.9 L230.9,626.7 L233.9,624.4 L236.9,622.2 L239.9,620.0 L243.0,617.9 L246.0,615.7 L249.0,613.5 L252.0,611.4 L255.0,609.3 L258.0,607.2 L261.0,605.1 L264.1,603.0 L267.1,600.9 L270.1,598.8 L273.1,596.8 L276.1,594.8 L279.1,592.7 L282.2,590.7 L285.2,588.7 L288.2,586.8 L291.2,584.8 L294.2,582.9 L297.2,581.0 L300.2,579.1 L303.3,577.2 L306.3,575.3 L309.3,573.5 L312.3,571.6 L315.3,569.8 L318.3,568.0 L321.3,566.3 L324.4,564.5 L327.4,562.8 L330.4,561.0 L333.4,559.3 L336.4,557.6 L339.4,555.9 L342.5,554.2 L345.5,552.5 L348.5,550.9 L351.5,549.2 L354.5,547.5 L357.5,545.9 L360.5,544.2 L363.6,542.6 L366.6,541.0 L369.6,539.3 L372.6,537.7 L375.6,536.1 L378.6,534.4 L381.6,532.8 L384.7,531.2 L387.7,529.6 L390.7,527.9 L393.7,526.3 L396.7,524.7 L399.7,523.0 L402.8,521.4 L405.8,519.8 L408.8,518.1 L411.8,516.5 L414.8,514.8 L417.8,513.1 L420.8,511.5 L423.9,509.8 L426.9,508.1 L429.9,506.4 L432.9,504.7 L435.9,503.0 L438.9,501.3 L441.9,499.6 L445.0,497.9 L448.0,496.1 L451.0,494.4 L454.0,492.6 L457.0,490.9 L460.0,489.1 L463.1,487.3 L466.1,485.5 L469.1,483.7 L472.1,481.9" fill="none" stroke="#2a2a2a" stroke-width="1.3"/>
<path d="M191.7,659.5 L194.7,658.7 L197.7,657.9 L200.7,657.1 L203.7,656.2 L206.7,655.2 L209.8,654.3 L212.8,653.3 L215.8,652.2 L218.8,651.2 L221.8,650.1 L224.8,648.9 L227.8,647.7 L230.8,646.5 L233.8,645.3 L236.8,644.1 L239.8,642.8 L242.8,641.4 L245.9,640.1 L248.9,638.7 L251.9,637.3 L254.9,635.9 L257.9,634.5 L260.9,633.0 L263.9,631.5 L266.9,630.0 L269.9,628.5 L272.9,627.0 L275.9,625.4 L278.9,623.8 L282.0,622.3 L285.0,620.7 L288.0,619.0 L291.0,617.4 L294.0,615.8 L297.0,614.1 L300.0,612.5 L303.0,610.8 L306.0,609.2 L309.0,607.5 L312.0,605.8 L315.1,604.1 L318.1,602.4 L321.1,600.8 L324.1,599.1 L327.1,597.4 L330.1,595.7 L333.1,594.0 L336.1,592.3 L339.1,590.6 L342.1,589.0 L345.1,587.3 L348.1,585.6 L351.2,584.0 L354.2,582.3 L357.2,580.7 L360.2,579.0 L363.2,577.4 L366.2,575.8 L369.2,574.2 L372.2,572.6 L375.2,571.1 L378.2,569.5 L381.2,568.0 L384.3,566.4 L387.3,564.9 L390.3,563.4 L393.3,561.9 L396.3,560.4 L399.3,558.9 L402.3,557.4 L405.3,555.9 L408.3,554.4 L411.3,552.9 L414.3,551.4 L417.3,549.9 L420.4,548.4 L423.4,546.9 L426.4,545.4 L429.4,543.9 L432.4,542.4 L435.4,540.9 L438.4,539.3 L441.4,537.8 L444.4,536.3 L447.4,534.7 L450.4,533.2 L453.4,531.6 L456.5,530.0 L459.5,528.4 L462.5,526.8 L465.5,525.2 L468.5,523.5 L471.5,521.9" fill="none" stroke="#2a2a2a" stroke-width="1.3"/>
<path d="M191.7,659.8 L194.7,659.0 L197.7,658.2 L200.8,657.3 L203.8,656.5 L206.8,655.6 L209.8,654.7 L212.8,653.7 L215.8,652.8 L218.9,651.8 L221.9,650.8 L224.9,649.8 L227.9,648.8 L230.9,647.7 L234.0,646.7 L237.0,645.6 L240.0,644.5 L243.0,643.4 L246.0,642.3 L249.0,641.1 L252.1,640.0 L255.1,638.8 L258.1,637.7 L261.1,636.5 L264.1,635.3 L267.1,634.1 L270.2,632.9 L273.2,631.7 L276.2,630.5 L279.2,629.3 L282.2,628.1 L285.3,626.8 L288.3,625.6 L291.3,624.4 L294.3,623.1 L297.3,621.9 L300.3,620.7 L303.4,619.4 L306.4,618.2 L309.4,616.9 L312.4,615.7 L315.4,614.4 L318.5,613.2 L321.5,611.9 L324.5,610.6 L327.5,609.4 L330.5,608.1 L333.5,606.8 L336.6,605.6 L339.6,604.3 L342.6,603.0 L345.6,601.7 L348.6,600.4 L351.7,599.2 L354.7,597.9 L357.7,596.6 L360.7,595.3 L363.7,594.0 L366.7,592.7 L369.8,591.5 L372.8,590.2 L375.8,588.9 L378.8,587.6 L381.8,586.3 L384.9,585.0 L387.9,583.7 L390.9,582.4 L393.9,581.2 L396.9,579.9 L399.9,578.6 L403.0,577.3 L406.0,576.0 L409.0,574.7 L412.0,573.4 L415.0,572.2 L418.0,570.9 L421.1,569.6 L424.1,568.3 L427.1,567.0 L430.1,565.8 L433.1,564.5 L436.2,563.2 L439.2,561.9 L442.2,560.7 L445.2,559.4 L448.2,558.1 L451.2,556.9 L454.3,555.6 L457.3,554.4 L460.3,553.1" fill="none" stroke="#2a2a2a" stroke-width="1.3"/>
<path d="M195.3,689.0 L198.3,687.4 L201.3,685.9 L204.3,684.4 L207.3,682.9 L210.3,681.4 L213.4,680.0 L216.4,678.5 L219.4,677.1 L222.4,675.7 L225.4,674.3 L228.4,672.9 L231.4,671.5 L234.4,670.1 L237.4,668.8 L240.4,667.4 L243.5,666.1 L246.5,664.8 L249.5,663.5 L252.5,662.2 L255.5,660.9 L258.5,659.7 L261.5,658.4 L264.5,657.2 L267.5,655.9 L270.5,654.7 L273.6,653.5 L276.6,652.3 L279.6,651.1 L282.6,649.9 L285.6,648.7 L288.6,647.6 L291.6,646.4 L294.6,645.3 L297.6,644.1 L300.6,643.0 L303.7,641.9 L306.7,640.8 L309.7,639.6 L312.7,638.5 L315.7,637.5 L318.7,636.4 L321.7,635.3 L324.7,634.2 L327.7,633.2 L330.7,632.1 L333.8,631.1 L336.8,630.0 L339.8,629.0 L342.8,627.9 L345.8,626.9 L348.8,625.9 L351.8,624.9 L354.8,623.9 L357.8,622.9 L360.8,621.9 L363.8,620.9 L366.9,619.9 L369.9,618.9 L372.9,617.9 L375.9,616.9 L378.9,615.9 L381.9,614.9 L384.9,614.0 L387.9,613.0 L390.9,612.0 L393.9,611.0 L397.0,610.1 L400.0,609.1 L403.0,608.1 L406.0,607.2 L409.0,606.2 L412.0,605.2 L415.0,604.3 L418.0,603.3 L421.0,602.4 L424.0,601.4 L427.1,600.4 L430.1,599.5 L433.1,598.5 L436.1,597.6 L439.1,596.6 L442.1,595.6 L445.1,594.7 L448.1,593.7 L451.1,592.7 L454.1,591.7 L457.2,590.8 L460.2,589.8 L463.2,588.8 L466.2,587.8 L469.2,586.8 L472.2,585.9" fill="none" stroke="#2a2a2a" stroke-width="1.3"/>
<path d="M70.5,624.1 L73.5,623.4 L76.5,622.6 L79.5,621.9 L82.5,621.2 L85.5,620.4 L88.5,619.7 L91.5,619.0 L94.5,618.3 L97.5,617.7 L100.5,617.0 L103.5,616.3 L106.5,615.7 L109.5,615.0 L112.5,614.4 L115.5,613.7 L118.5,613.1 L121.5,612.5 L124.5,611.9 L127.5,611.3 L130.5,610.7 L133.5,610.1 L136.5,609.5 L139.5,609.0 L142.5,608.4 L145.5,607.8 L148.5,607.3 L151.5,606.8 L154.5,606.2 L157.5,605.7 L160.5,605.2 L163.5,604.7 L166.5,604.2 L169.5,603.7 L172.6,603.2 L175.6,602.7 L178.6,602.3 L181.6,601.8 L184.6,601.3 L187.6,600.9 L190.6,600.4 L193.6,600.0 L196.6,599.6 L199.6,599.1 L202.6,598.7 L205.6,598.3 L208.6,597.9 L211.6,597.5 L214.6,597.1 L217.6,596.7 L220.6,596.3 L223.6,596.0 L226.6,595.6 L229.6,595.2 L232.6,594.8 L235.6,594.5 L238.6,594.1 L241.6,593.8 L244.6,593.4 L247.6,593.1 L250.6,592.7 L253.6,592.3 L256.6,592.0 L259.6,591.6 L262.6,591.3 L265.6,590.9 L268.6,590.6 L271.6,590.2 L274.6,589.9 L277.6,589.5 L280.6,589.1 L283.6,588.7 L286.6,588.4 L289.6,588.0 L292.6,587.6 L295.6,587.2 L298.6,586.8 L301.6,586.4 L304.6,586.0 L307.6,585.5 L310.6,585.1 L313.6,584.7 L316.6,584.2 L319.6,583.7 L322.6,583.3 L325.6,582.8 L328.6,582.3 L331.6,581.8 L334.6,581.2 L337.6,580.7 L340.6,580.2 L343.6,579.6 L346.6,579.0 L349.6,578.4 L352.6,577.8 L355.6,577.2 L358.6,576.6 L361.6,576.0 L364.6,575.3 L367.6,574.7 L370.6,574.0 L373.7,573.3 L376.7,572.6 L379.7,571.9 L382.7,571.1 L385.7,570.4 L388.7,569.6 L391.7,568.9 L394.7,568.1 L397.7,567.3 L400.7,566.5 L403.7,565.6 L406.7,564.8 L409.7,563.9 L412.7,563.1 L415.7,562.2 L418.7,561.3 L421.7,560.4 L424.7,559.4 L427.7,558.5 L430.7,557.5 L433.7,556.5 L436.7,555.5 L439.7,554.5 L442.7,553.5 L445.7,552.5 L448.7,551.4 L451.7,550.3 L454.7,549.2 L457.7,548.1 L460.7,547.0 L463.7,545.9 L466.7,544.7 L469.7,543.5 L472.7,542.3" fill="none" stroke="#ee3030" stroke-width="1.5"/>
<text x="470.2" y="426.4" text-anchor="middle" class="cl">4</text>
<text x="476" y="433.6" text-anchor="middle" class="cl">1</text>
<text x="475.7" y="471.3" text-anchor="middle" class="cl">6</text>
<text x="475.7" y="478.6" text-anchor="middle" class="cl">2</text>
<text x="475.7" y="487.6" text-anchor="middle" class="cl">8</text>
<text x="475.3" y="500.9" text-anchor="middle" class="cl">3</text>
<text x="475.7" y="523.4" text-anchor="middle" class="cl">7</text>
<text x="464.3" y="556.9" text-anchor="middle" class="cl">9</text>
<text x="475.7" y="560.6" text-anchor="middle" class="cl">5</text>
<text x="473.1" y="584.4" text-anchor="middle" class="cl">10</text>
</svg>
</body></html>
